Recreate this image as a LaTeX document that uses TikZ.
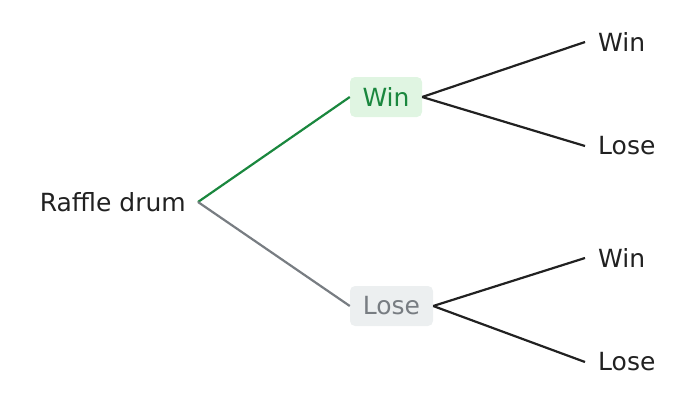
\documentclass[tikz,border=0pt]{standalone}
\usepackage{fontspec}
\setmainfont{DejaVu Sans}
\begin{document}
\begin{tikzpicture}[x=1pt,y=-1pt,
  txt/.style={font=\fontsize{25}{30}\selectfont, text=black!87, inner sep=0pt},
  box/.style={font=\fontsize{25}{30}\selectfont, rounded corners=5pt, minimum height=40pt, inner sep=4pt, anchor=center},
  leaf/.style={txt, anchor=west},
  edge/.style={line width=2.2pt, draw=black!87}]
\useasboundingbox (0,0) rectangle (691,405);
\node[txt, anchor=east] (root) at (186,202) {Raffle drum};
\coordinate (r) at (198,202);
\node[box, fill={rgb,255:red,224;green,245;blue,226}, text={rgb,255:red,26;green,135;blue,62}, minimum width=72pt] (w) at (386,97) {Win};
\node[box, fill={rgb,255:red,236;green,239;blue,240}, text={rgb,255:red,120;green,125;blue,130}, minimum width=83pt] (l) at (391.5,306) {Lose};
\draw[line width=2.2pt, draw={rgb,255:red,26;green,135;blue,62}] (r) -- (w.west);
\draw[line width=2.2pt, draw={rgb,255:red,120;green,125;blue,130}] (r) -- (l.west);
\node[leaf] (ww) at (598,42) {Win};
\node[leaf] (wl) at (598,146) {Lose};
\node[leaf] (lw) at (598,258) {Win};
\node[leaf] (ll) at (598,362) {Lose};
\coordinate (a1) at (585,42); \coordinate (a2) at (585,146);
\coordinate (a3) at (585,258); \coordinate (a4) at (585,362);
\draw[edge] (w.east) -- (a1);
\draw[edge] (w.east) -- (a2);
\draw[edge] (l.east) -- (a3);
\draw[edge] (l.east) -- (a4);
\end{tikzpicture}
\end{document}
